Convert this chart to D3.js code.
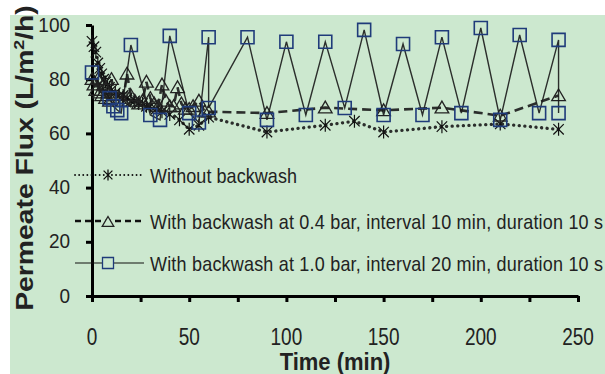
<!DOCTYPE html>
<html>
<head>
<meta charset="utf-8">
<script src="https://cdn.jsdelivr.net/npm/d3@7"></script>
<style>
body { margin: 0; background: #fff; }
svg { display: block; }
text { font-family: Arial, "Liberation Sans", sans-serif; fill: #222; }
</style>
</head>
<body>
<div id="chart"></div>
<script>
var svgWidth = 605;
var svgHeight = 374;

// data
var xTicks = [0, 50, 100, 150, 200, 250];
var xMinorTicks = [0, 25, 50, 75, 100, 125, 150, 175, 200, 225, 250];
var yTicks = [0, 20, 40, 60, 80, 100];

var legendNames = [
  "Without backwash",
  "With backwash at 0.4 bar, interval 10 min, duration 10 s",
  "With backwash at 1.0 bar, interval 20 min, duration 10 s"
];

var timeNoWash = [0, 1, 2, 3, 4, 5, 6, 7, 8, 9, 10, 12, 14, 16, 18, 20, 22, 24, 26, 28, 30, 33, 36, 40, 45, 50, 55, 60, 90, 120, 135, 150, 180, 210, 240];
var fluxNoWash = [94, 92, 90, 86, 84, 82, 80, 79, 78, 77, 76, 75, 74, 74, 73, 72, 72, 71, 71, 70, 70, 69, 68, 67, 65, 61.5, 63, 66, 60.5, 63, 64.5, 60.5, 62.5, 63.5, 61.5];

var timeWash04 = [0, 1, 2, 3, 4, 5, 6, 7, 8, 9, 10, 12, 14, 16, 18, 20, 22, 24, 26, 28, 30, 32, 34, 36, 38, 40, 42, 44, 46, 48, 50, 52, 55, 58, 60, 90, 120, 150, 180, 210, 240];
var fluxWash04 = [80, 78, 76, 80, 75, 74, 78, 73, 75, 72, 80, 74, 73, 72, 82, 74, 72, 71, 72, 79, 73, 71, 70, 78, 72, 70, 70, 77, 71, 69, 69, 70, 72, 68, 68, 67.5, 69.5, 68.5, 69.5, 66.5, 74];

var timeWash10 = [0, 9, 11, 13, 15, 20, 30, 35, 40, 50, 55, 60, 60, 80, 90, 100, 110, 120, 130, 140, 150, 160, 170, 180, 190, 200, 210, 220, 230, 240, 240];
var fluxWash10 = [82.5, 73, 70, 68.6, 67.5, 92.6, 66.8, 65, 96, 67.5, 64, 95.5, 69.4, 95.5, 65, 93.8, 66.8, 93.8, 69.4, 98.2, 66.8, 93, 66.8, 95.5, 67.5, 98.9, 65, 96.3, 67.5, 94.5, 67.5];

var margin = { top: 25, right: 27, bottom: 78, left: 92 };
var chartWidth = svgWidth - margin.left - margin.right;
var chartHeight = svgHeight - margin.top - margin.bottom;

var svg = d3.select("#chart")
  .append("svg")
  .attr("width", svgWidth)
  .attr("height", svgHeight);

// green panel
svg.append("rect")
  .attr("x", 10).attr("y", 15)
  .attr("width", svgWidth - 10).attr("height", svgHeight - 15)
  .attr("fill", "#cce8cf");

var chartGroup = svg.append("g")
  .attr("transform", `translate(${margin.left},${margin.top})`);

var xScale = d3.scaleLinear().domain([0, 250]).range([0, chartWidth]);
var yScale = d3.scaleLinear().domain([0, 100]).range([chartHeight, 0]);

// text that is taller than it is wide, as in the picture
function stretchText(parent, x, y, str, size, sy, anchor, weight) {
  return parent.append("text")
    .attr("transform", `translate(${x},${y}) scale(1,${sy})`)
    .attr("text-anchor", anchor)
    .attr("font-size", size)
    .attr("font-weight", weight || "normal")
    .text(str);
}

// axes
var leftAxis = d3.axisLeft(yScale).tickValues(yTicks).tickSize(6).tickSizeOuter(0).tickFormat("");
var bottomAxis = d3.axisBottom(xScale).tickValues(xMinorTicks).tickSize(6).tickSizeOuter(0).tickFormat("");

chartGroup.append("g")
  .attr("transform", `translate(0,${chartHeight})`)
  .call(bottomAxis)
  .call(g => g.selectAll("path, line").attr("stroke", "#000").attr("stroke-width", 3));

chartGroup.append("g")
  .call(leftAxis)
  .call(g => g.selectAll("path, line").attr("stroke", "#000").attr("stroke-width", 3));

yTicks.forEach(function(v) {
  stretchText(chartGroup, -22, yScale(v) + 6.5, v, 19, 1.05, "end").attr("fill", "#333");
});
xTicks.forEach(function(v) {
  stretchText(chartGroup, xScale(v), chartHeight + 49, v, 19, 1.25, "middle").attr("fill", "#333");
});

// axis titles
stretchText(chartGroup, chartWidth / 2, chartHeight + 74, "Time (min)", 22, 1.1, "middle", "bold");

var yTitle = svg.append("text")
  .attr("transform", "translate(33,158) rotate(-90) scale(1.18,1)")
  .attr("text-anchor", "middle")
  .attr("font-size", 24)
  .attr("font-weight", "bold");
yTitle.append("tspan").text("Permeate Flux (L/m");
yTitle.append("tspan").attr("font-size", 15).attr("dy", -9).text("2");
yTitle.append("tspan").attr("dy", 9).text("/h)");

// marker shapes
var starPath = function(r) { return `M0,${-r}V${r}M${-r * 0.8},${-r * 0.8}L${r * 0.8},${r * 0.8}M${-r * 0.8},${r * 0.8}L${r * 0.8},${-r * 0.8}`; };
var triPath = function(r) { return `M0,${-r}L${r * 1.05},${r * 0.8}L${-r * 1.05},${r * 0.8}Z`; };
var sqPath = function(r) { return `M${-r},${-r}H${r}V${r}H${-r}Z`; };

var series = [
  { t: timeNoWash, v: fluxNoWash, dash: "0.1 5.5", width: 3.3, cap: "round", marker: starPath, r: 6.5, mcolor: "#111", mwidth: 1.2 },
  { t: timeWash04, v: fluxWash04, dash: "9 5", width: 2.6, cap: "butt", marker: triPath, r: 6.5, mcolor: "#222", mwidth: 1.3 },
  { t: timeWash10, v: fluxWash10, dash: null, width: 1.4, cap: "butt", marker: sqPath, r: 6.5, mcolor: "#1f3b7a", mwidth: 1.6 }
];

var line = d3.line()
  .x(function(d) { return xScale(d[0]); })
  .y(function(d) { return yScale(d[1]); });

series.forEach(function(s) {
  var pts = s.t.map(function(t, i) { return [t, s.v[i]]; });
  chartGroup.append("path")
    .datum(pts)
    .attr("d", line)
    .attr("fill", "none")
    .attr("stroke", "#1a1a1a")
    .attr("stroke-opacity", 0.9)
    .attr("stroke-width", s.width)
    .attr("stroke-linecap", s.cap)
    .attr("stroke-dasharray", s.dash);

  chartGroup.append("g").selectAll("path")
    .data(pts)
    .enter()
    .append("path")
    .attr("transform", function(d) { return `translate(${xScale(d[0])},${yScale(d[1])})`; })
    .attr("d", s.marker(s.r))
    .attr("fill", "none")
    .attr("stroke", s.mcolor)
    .attr("stroke-width", s.mwidth);
});

// legend
var legendY = [175, 221, 263];
var legendDash = ["0.1 4", "6 4", null];
var legendWidth = [1.8, 2.6, 1.2];
var legendTextLen = [147, 453, 453];
var legend = svg.append("g");
legendNames.forEach(function(name, i) {
  var s = series[i];
  legend.append("line")
    .attr("x1", 75).attr("x2", 144)
    .attr("y1", legendY[i]).attr("y2", legendY[i])
    .attr("stroke", "#111")
    .attr("stroke-width", legendWidth[i])
    .attr("stroke-linecap", i === 0 ? "round" : "butt")
    .attr("stroke-dasharray", legendDash[i]);
  legend.append("path")
    .attr("transform", `translate(108,${legendY[i] + (i === 1 ? 1 : 0)})`)
    .attr("d", s.marker(5.5))
    .attr("fill", "#cce8cf")
    .attr("stroke", s.mcolor)
    .attr("stroke-width", 1.3);
  stretchText(legend, 150, legendY[i] + 8, name, 18, 1.15, "start")
    .attr("textLength", legendTextLen[i])
    .attr("lengthAdjust", "spacing");
});
</script>
</body>
</html>
